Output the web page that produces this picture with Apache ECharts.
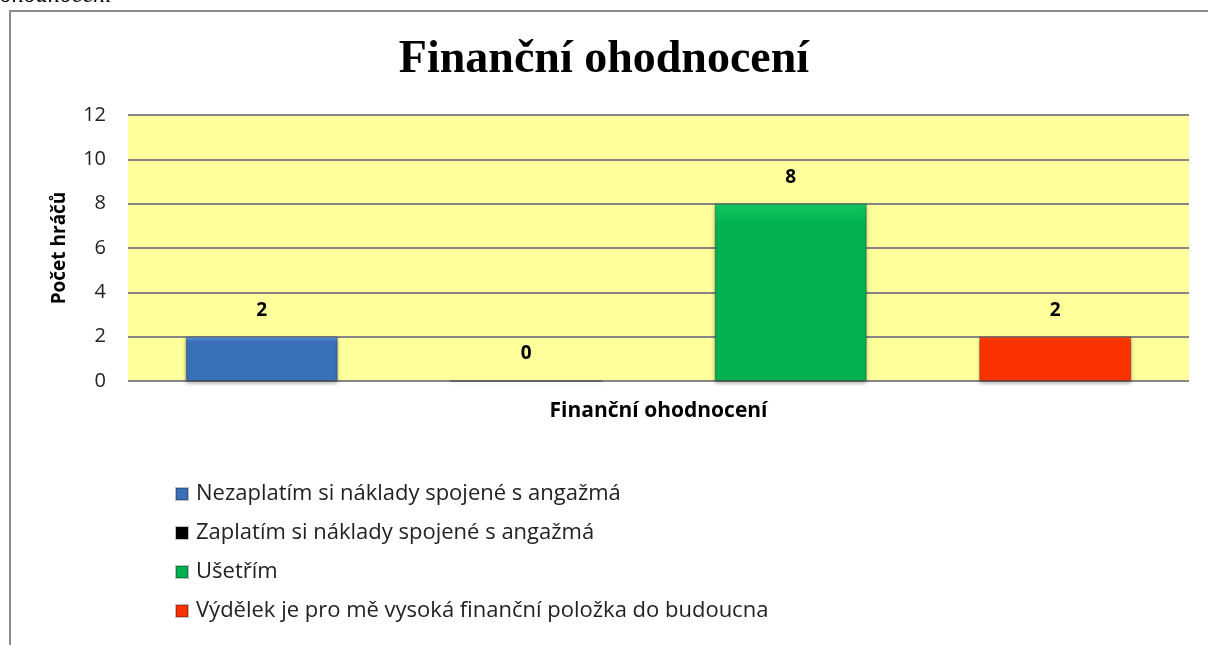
<!DOCTYPE html>
<html>
<head>
<meta charset="utf-8">
<script src="https://cdn.jsdelivr.net/npm/echarts@6/dist/echarts.min.js"></script>
<style>
  html, body { margin: 0; padding: 0; background: #fff; }
  #main { width: 1208px; height: 645px; }
</style>
</head>
<body>
<div id="main"></div>
<script>
  // data
  var categories = ['Finanční ohodnocení'];
  var seriesNames = [
    'Nezaplatím si náklady spojené s angažmá',
    'Zaplatím si náklady spojené s angažmá',
    'Ušetřím',
    'Výdělek je pro mě vysoká finanční položka do budoucna'
  ];
  var seriesValues = [[2], [0], [8], [2]];
  var yTicks = { min: 0, max: 12, interval: 2 };

  // top colour, bottom colour of each bar
  var colors = [
    ['#5b95d8', '#3a70b8'],
    ['#333333', '#000000'],
    ['#12c862', '#04b050'],
    ['#ff4a1a', '#fb3200']
  ];

  var font = '"Open Sans", Lato, sans-serif';

  var myChart = echarts.init(document.getElementById('main'));

  var series = seriesNames.map(function (name, i) {
    return {
      name: name,
      type: 'bar',
      data: seriesValues[i],
      barWidth: 152,
      barGap: '74%',
      itemStyle: {
        color: new echarts.graphic.LinearGradient(0, 0, 0, 1, [
          { offset: 0, color: colors[i][0] },
          { offset: 0.12, color: colors[i][1] },
          { offset: 1, color: colors[i][1] }
        ]),
        borderColor: 'rgba(0,0,0,0.25)',
        borderWidth: 1,
        shadowColor: 'rgba(0,0,0,0.35)',
        shadowBlur: 4,
        shadowOffsetY: 2
      },
      label: {
        show: true,
        position: 'top',
        distance: 17,
        fontFamily: font,
        fontWeight: 'bold',
        fontSize: 19,
        color: '#000'
      }
    };
  });

  var option = {
    animation: false,
    textStyle: { fontFamily: font },
    title: {
      text: 'Finanční ohodnocení',
      left: 'center',
      top: 32,
      textStyle: {
        fontFamily: '"Liberation Serif", "Times New Roman", serif',
        fontWeight: 'bold',
        fontSize: 46,
        color: '#000'
      }
    },
    graphic: [
      {
        type: 'text',
        left: 0,
        top: -16,
        style: {
          text: 'ohodnocení',
          font: 'italic 24px "Liberation Serif", serif',
          fill: '#000'
        }
      },
      {
        type: 'rect',
        shape: { x: 10, y: 11, width: 1220, height: 660 },
        style: { fill: 'none', stroke: '#8c8c8c', lineWidth: 2 },
        z: 100
      }
    ],
    legend: {
      orient: 'vertical',
      left: 175,
      top: 483,
      padding: 0,
      itemWidth: 12,
      itemHeight: 12,
      itemGap: 17,
      icon: 'rect',
      data: seriesNames,
      textStyle: {
        fontFamily: font,
        fontSize: 22,
        lineHeight: 21.5,
        color: '#222',
        padding: [0, 0, 0, 3]
      }
    },
    grid: {
      left: 128,
      right: 19,
      top: 115,
      bottom: 264,
      show: true,
      backgroundColor: '#ffff9c',
      borderWidth: 0
    },
    xAxis: {
      type: 'category',
      data: categories,
      axisLine: { show: false },
      axisTick: { show: false },
      axisLabel: {
        margin: 20,
        fontFamily: font,
        fontWeight: 'bold',
        fontSize: 21,
        color: '#000'
      }
    },
    yAxis: {
      type: 'value',
      min: yTicks.min,
      max: yTicks.max,
      interval: yTicks.interval,
      name: 'Počet hráčů',
      nameLocation: 'middle',
      nameGap: 59,
      nameRotate: 90,
      nameTextStyle: {
        fontFamily: font,
        fontWeight: 'bold',
        fontSize: 19,
        color: '#000'
      },
      axisLine: { show: false },
      axisTick: { show: false },
      axisLabel: {
        margin: 22,
        fontFamily: font,
        fontSize: 20,
        color: '#222'
      },
      splitLine: { lineStyle: { color: '#868686', width: 2 } }
    },
    series: series
  };

  myChart.setOption(option);
</script>
</body>
</html>
